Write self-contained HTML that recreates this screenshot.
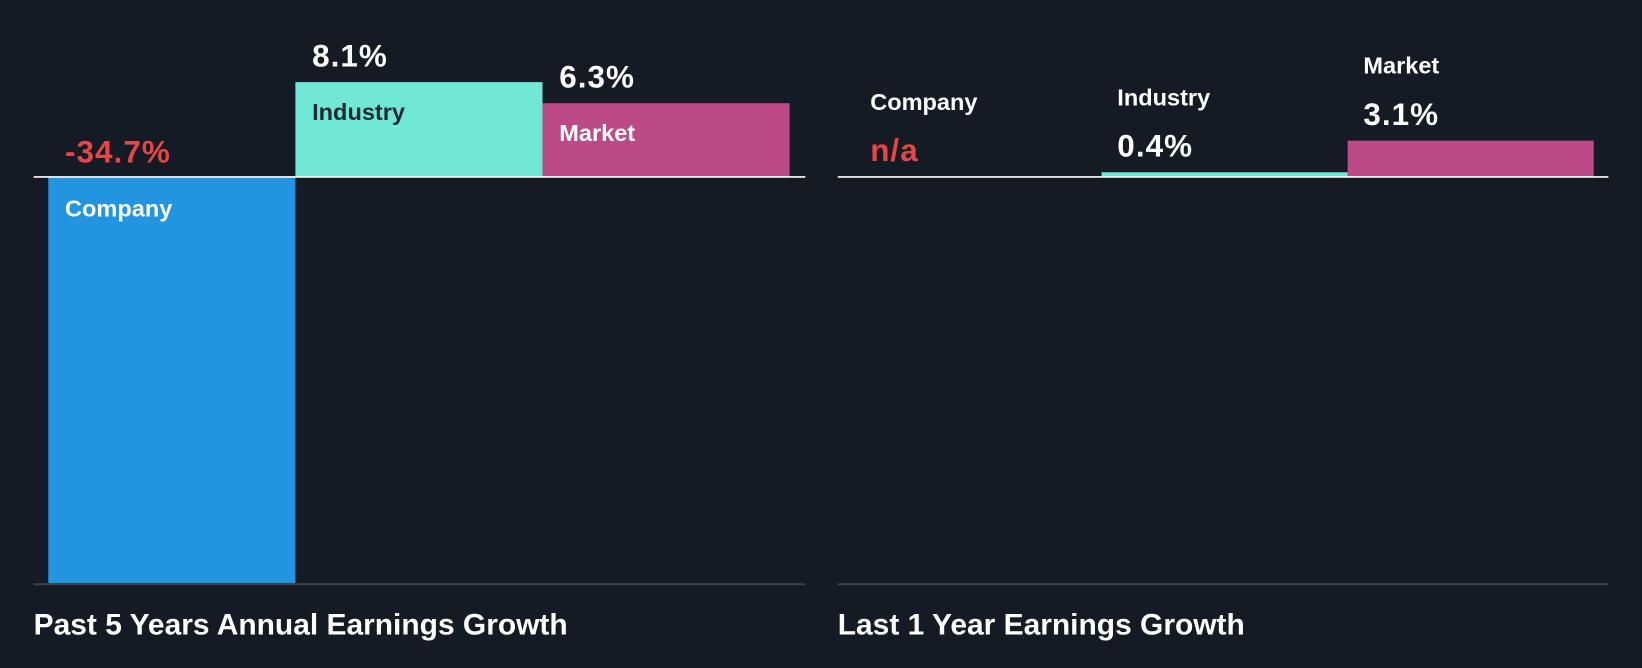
<!DOCTYPE html>
<html><head><meta charset="utf-8"><style>
html,body{margin:0;padding:0;background:#151b24;}
svg{display:block;font-family:"Liberation Sans",Arial,sans-serif;font-weight:bold;}
</style></head><body>
<svg id="c" width="1642" height="668" viewBox="0 0 1568 638" xmlns="http://www.w3.org/2000/svg">
<rect width="1568" height="638" fill="#151b24"/>
</svg>
<script>
const categories = ["Company","Industry","Market"];
const past5Values = [-34.7, 8.1, 6.3];
const past5Labels = ["-34.7%","8.1%","6.3%"];
const last1Values = [null, 0.4, 3.1];
const last1Labels = ["n/a","0.4%","3.1%"];
const colors = ["#2394e0","#6fe8d6","#bb4a87"];
const svg = document.getElementById('c');
const NS = "http://www.w3.org/2000/svg";
function mk(tag, attrs){const e=document.createElementNS(NS,tag);for(const k in attrs)e.setAttribute(k,attrs[k]);svg.appendChild(e);return e;}
const zeroY = 169, pxPer = 388/34.7, bw = 236;
function yScale(v){return zeroY - v*pxPer;}

const lx0 = 46;
past5Values.forEach((v,i)=>{
  const x = lx0 + i*bw, top = Math.min(yScale(v),zeroY), h = Math.abs(yScale(v)-zeroY);
  const r = mk('rect',{x:x,y:top,width:bw,height:h,fill:colors[i]});
  
  
  const neg = v<0;
  const vt = mk('text',{x:x+16,y:neg?zeroY-14:top-15,'font-size':30,'letter-spacing':1,fill:neg?'#e84545':'#ffffff'});
  vt.textContent = past5Labels[i];
  
  
  const lt = mk('text',{x:x+16,y:neg?zeroY+38:top+36,'font-size':22.5,fill:i===1?'#1f2a33':'#ffffff'});
  lt.textContent = categories[i];
  
  
});
const rx0 = 816;
last1Values.forEach((v,i)=>{
  const x = rx0 + i*bw - (i===2?1:0);
  let top = zeroY;
  if(v!==null){
    top = yScale(v);
    const r = mk('rect',{x:x,y:top,width:bw-1,height:zeroY-top,fill:colors[i]});
    
    
  }
  const vt = mk('text',{x:x+15,y:(v===null?zeroY:top)-15,'font-size':30,'letter-spacing':1,fill:v===null?'#e84545':'#ffffff'});
  vt.textContent = last1Labels[i];
  
  
  const lt = mk('text',{x:x+15,y:(v===null?zeroY:top)-64,'font-size':22.5,fill:'#ffffff'});
  lt.textContent = categories[i];
  
  
});
[[32,769],[800,1536]].forEach((p,j)=>{
  const z = mk('line',{x1:p[0],x2:p[1],y1:zeroY,y2:zeroY,stroke:'#ffffff','stroke-width':1.5});
  
  
  const b = mk('line',{x1:p[0],x2:p[1],y1:558,y2:558,stroke:'#3d434b','stroke-width':2});
  
  
});
const t1 = mk('text',{x:32,y:606,'font-size':28.6,fill:'#ffffff'});
t1.textContent = 'Past 5 Years Annual Earnings Growth';


const t2 = mk('text',{x:800,y:606,'font-size':28.6,fill:'#ffffff'});
t2.textContent = 'Last 1 Year Earnings Growth';


</script>
</body></html>
